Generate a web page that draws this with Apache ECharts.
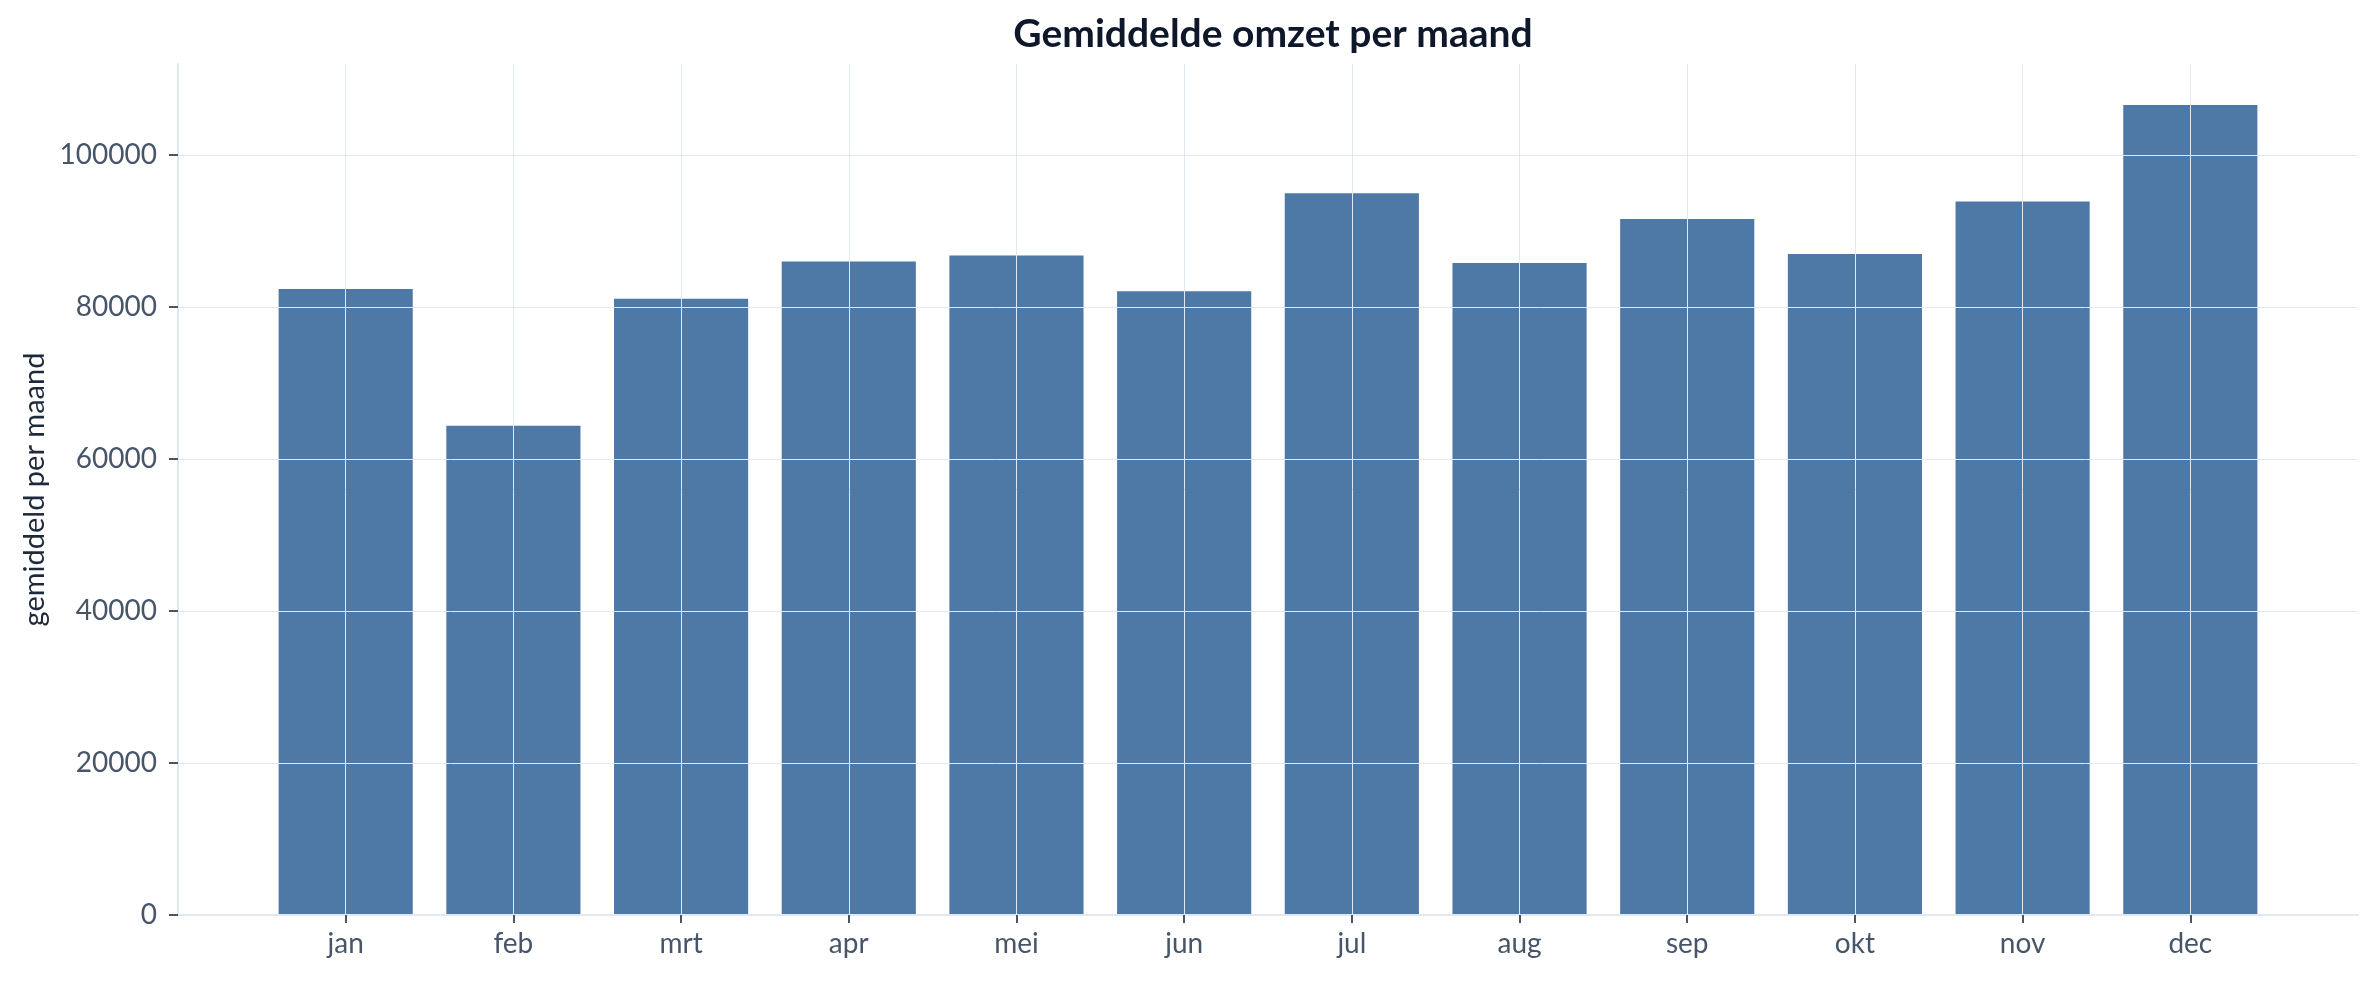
<!DOCTYPE html>
<html>
<head>
    <meta charset="utf-8">
    <title>Gemiddelde omzet per maand</title>
    <script src="https://cdn.jsdelivr.net/npm/echarts@6/dist/echarts.min.js"></script>
    <style>
        html, body { margin: 0; padding: 0; background: #fff; }
    </style>
</head>
<body>

<div id='bar' style="width: 2378px; height: 981px;"></div>
<script type="text/javascript">
    // data
    var months = ['jan', 'feb', 'mrt', 'apr', 'mei', 'jun', 'jul', 'aug', 'sep', 'okt', 'nov', 'dec'];
    var omzet = [82400, 64400, 81100, 86000, 86800, 82100, 95000, 85800, 91600, 87000, 93900, 106600];
    var yTicks = [0, 20000, 40000, 60000, 80000, 100000];
    var yMax = 112000;

    // een lege categorie links en rechts, zoals in het origineel (bereik -1 .. 12)
    var xCats = [''].concat(months, ['']);
    var barData = [null].concat(omzet, [null]);
    var inner = function (index) { return index > 0 && index < xCats.length - 1; };

    var font = 'Lato, "Noto Sans", sans-serif';
    var gridColor = '#e2e8f0';
    var textColor = '#475569';

    var myBar = echarts.init(document.getElementById('bar'));
    var barOption = {
        animation: false,
        title: {
            text: 'Gemiddelde omzet per maand',
            left: 1268,
            textAlign: 'center',
            top: 10,
            textStyle: { fontFamily: font, fontSize: 39, fontWeight: 'bold', color: '#0f172a' }
        },
        grid: { left: 178, right: 20, top: 64, bottom: 66 },
        xAxis: {
            type: 'category',
            data: xCats,
            boundaryGap: false,
            z: 3,
            axisLine: { lineStyle: { color: gridColor, width: 2 } },
            axisTick: { show: true, interval: inner, length: 8, lineStyle: { color: textColor, width: 2 } },
            axisLabel: { interval: inner, margin: 15, fontFamily: font, fontSize: 28, color: textColor },
            splitLine: { show: true, interval: inner, lineStyle: { color: gridColor, width: 1 } }
        },
        yAxis: {
            type: 'value',
            min: 0,
            max: yMax,
            z: 3,
            name: 'gemiddeld per maand',
            nameLocation: 'middle',
            nameGap: 126,
            nameTextStyle: { fontFamily: font, fontSize: 29, color: '#1e293b' },
            axisLine: { show: true, lineStyle: { color: gridColor, width: 2 } },
            axisTick: { show: true, customValues: yTicks, length: 9, lineStyle: { color: textColor, width: 2 } },
            axisLabel: {
                customValues: yTicks,
                margin: 21,
                fontFamily: font,
                fontSize: 28,
                color: textColor,
                formatter: function (v) { return String(v); }
            },
            splitLine: { show: true, lineStyle: { color: gridColor, width: 1 } }
        },
        series: [{
            type: 'bar',
            data: barData,
            barWidth: '80%',
            itemStyle: { color: '#4e79a7' }
        }]
    };

    myBar.setOption(barOption);
</script>
</body>
</html>
